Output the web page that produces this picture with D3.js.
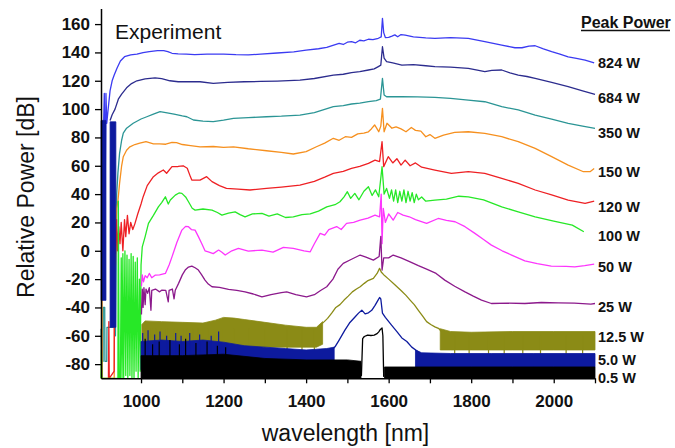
<!DOCTYPE html>
<html><head><meta charset="utf-8">
<script src="https://cdn.jsdelivr.net/npm/d3@7"></script>
<style>html,body{margin:0;padding:0;background:#fff;}svg{display:block;}</style>
</head><body><svg id="chart" width="675" height="448"></svg>
<script>
// ---------- data ----------
const xTicks = [1000,1100,1200,1300,1400,1500,1600,1700,1800,1900,2000,2100];
const xTickLabels = [1000,1200,1400,1600,1800,2000];
const yTicks = [-80,-60,-40,-20,0,20,40,60,80,100,120,140,160];
const seriesNames = ["824 W","684 W","350 W","150 W","120 W","100 W","50 W","25 W","12.5 W","5.0 W","0.5 W"];
const seriesColors = ["#3b3bf2","#2c2c8e","#2b9595","#f6901f","#ee2024","#27e827","#fd36fd","#8c1a8c","#8b8b16","#0d1a9e","#000000"];
const labelLevels = [132.3,107.6,82.9,55.8,30.7,10.6,-11.7,-39.5,-61.1,-77.1,-89.8];

const p824 = [[909,85],[911,111],[913,40],[915,111],[917,90],[920,99],[925,113],[930,120],[935,124],[942,129],[950,134],[960,137],[975,138.3],[990,138.8],[1005,139.8],[1020,140.5],[1040,141.2],[1055,141.3],[1065,140.6],[1075,139.4],[1090,139],[1110,138.8],[1130,138.5],[1160,138.8],[1200,138.8],[1230,138.4],[1260,138.2],[1290,138.8],[1330,139.6],[1370,140.4],[1400,141.6],[1430,142.6],[1450,143.5],[1465,145],[1480,146.4],[1490,145.6],[1500,147.2],[1510,147.6],[1520,146.8],[1530,148.6],[1540,148.2],[1551,149.3],[1562,149],[1575,150],[1582,151],[1585,164],[1588,154],[1592,150.5],[1600,150.6],[1608,151.5],[1615,152.4],[1622,151],[1630,152.6],[1640,152.2],[1660,151],[1690,150.2],[1712,149.9],[1750,150.4],[1793,149.9],[1833,147.6],[1874,145.2],[1906,143.3],[1923,143.3],[1940,144.5],[1955,144.7],[1975,142.5],[1995,140.5],[2015,138.8],[2035,136.9],[2055,135.8],[2076,134.6],[2098,132.7]];
const p684 = [[925,92],[930,96],[937,100],[945,107],[953,110.5],[965,115],[977,118],[990,120],[1010,121.3],[1034,122],[1050,121.5],[1070,120],[1090,119.3],[1120,119.4],[1143,119.3],[1175,118.2],[1210,118.8],[1250,119.3],[1290,119.5],[1330,119.8],[1385,120.5],[1420,121.6],[1466,124],[1490,124.6],[1510,125.8],[1530,126.4],[1551,127.6],[1565,128.4],[1575,130],[1581,131],[1585,144],[1589,136],[1595,133.5],[1610,132.6],[1632,131.1],[1660,131.4],[1690,130.6],[1712,130],[1750,129.6],[1793,128.8],[1815,127.5],[1833,126.4],[1850,127.4],[1874,127.6],[1894,125.6],[1914,124],[1935,123],[1955,121.7],[1995,118.8],[2035,115.8],[2070,112.8],[2100,110.4]];
const p350 = [[903,-55],[904,-78],[908,-78],[908.5,-40],[912,-40],[912.5,-78],[917,-78],[917.5,-54],[937,-54],[938,-60],[941,40],[944,55],[948,68.8],[953,78],[957,83],[965,86.5],[981,90],[1000,93],[1014,94.6],[1030,96.5],[1046,98.2],[1060,97.5],[1080,96.5],[1100,95.2],[1111,94.6],[1127,92.3],[1150,91.5],[1175,91.1],[1200,92.2],[1224,93.5],[1260,94],[1304,94.6],[1340,95],[1385,95.8],[1420,97.5],[1466,101.7],[1490,102.5],[1510,103.6],[1530,104.2],[1551,105.2],[1570,106],[1580,107],[1585,121.7],[1589,110],[1595,108.7],[1632,108.7],[1670,108.6],[1712,108.3],[1750,107.5],[1793,106.4],[1833,105.2],[1874,101.7],[1914,99.4],[1955,95.8],[1995,93],[2035,90],[2070,88],[2100,86.4]];
const p150 = [[904,-90],[905,36],[906,-90],[935,-90],[936,25],[938,-10],[941,30],[944,35],[948,47.6],[953,60],[957,66.4],[965,71],[973,73.4],[985,75],[997,75.9],[1012,77],[1030,75.5],[1045,75.4],[1060,75.2],[1075,76.5],[1086,76.3],[1100,75],[1120,74.2],[1143,73.4],[1175,73.6],[1200,73],[1224,73.4],[1260,72],[1304,70.6],[1340,69.5],[1369,68.3],[1400,70],[1425,73.4],[1445,76],[1466,79.4],[1480,78],[1495,80.5],[1510,80],[1525,82.5],[1540,83],[1551,84],[1558,86],[1566,88.8],[1572,86],[1576,84],[1581,88],[1585,100.5],[1589,84],[1596,90],[1608,86.5],[1618,87.5],[1630,86],[1642,84],[1655,87],[1665,85],[1678,84.5],[1690,80.5],[1700,82],[1712,79.4],[1733,81.7],[1760,83.5],[1793,84],[1833,82.9],[1874,80.5],[1914,77],[1955,72.3],[1995,66.4],[2035,60.5],[2072,55.8],[2088,55.8],[2098,58]];
const p120 = [[921,-90],[922,-50],[923,-90],[935,-85],[936,20],[938,-2],[941,22],[943,0],[946,17],[949,5],[952,20],[956,0],[960,22],[963,10],[967,25],[971,12],[975,20],[980,15],[985,19],[992,26],[1000,33],[1005,38],[1015,46],[1030,52.3],[1042,55],[1054,57],[1062,54.7],[1075,59.4],[1090,59.5],[1102,60],[1112,58.2],[1120,52],[1123,49.9],[1143,49.9],[1159,52.3],[1172,48.8],[1190,46],[1207,44.1],[1235,43.5],[1264,42.9],[1304,44.1],[1340,45],[1385,46.4],[1420,49],[1445,52],[1466,54.7],[1490,56],[1510,58.2],[1530,59.5],[1551,61.7],[1567,64],[1578,63],[1584,77],[1588,59.4],[1599,66.4],[1610,62],[1620,65],[1630,60.5],[1640,64],[1652,60],[1665,62],[1680,59],[1712,57],[1752,54.7],[1793,55.8],[1833,54.7],[1874,51.1],[1914,47.6],[1955,42.9],[1995,39.4],[2035,35.8],[2076,33.5],[2098,35]];
const p100 = [[903,-90],[904,-70],[905,-90],[944,-90],[945,35],[947,-90],[950,-90],[952,-5],[954,-90],[956,-2],[958,-90],[961,0],[963,-88],[966,-3],[968,-90],[971,-6],[973,-88],[976,-2],[978,-90],[981,-4],[983,-90],[986,-8],[988,-85],[991,-5],[993,-90],[996,-20],[998,-85],[1000,-10],[1003,2.8],[1010,10],[1018,19.3],[1030,25],[1042,31],[1050,34],[1059,38.1],[1066,33],[1071,35.8],[1083,39.3],[1092,40.8],[1099,40.5],[1108,38],[1115,34.6],[1124,30],[1131,28.7],[1150,29.5],[1172,28.7],[1185,27],[1196,25.2],[1212,26.5],[1228,27.5],[1240,25.5],[1252,24],[1270,26],[1293,26.4],[1310,24.5],[1330,26],[1350,23.5],[1369,24],[1390,25.5],[1410,26],[1430,28],[1450,31],[1470,32.5],[1482,34.6],[1492,38],[1500,41.7],[1508,37],[1518,40.5],[1528,36],[1540,42],[1551,45.2],[1560,39],[1568,43],[1576,38.1],[1584,59.3],[1589,40],[1595,44],[1602,37],[1607,43],[1612,35],[1617,43],[1622,34],[1627,42],[1632,35],[1637,43],[1642,34],[1647,42],[1652,35],[1657,41],[1662,34],[1667,40],[1672,36],[1680,38],[1690,35],[1712,35.8],[1740,36.5],[1770,38.5],[1793,38.1],[1830,36],[1874,31],[1914,27.5],[1955,24],[2000,21],[2045,18.1],[2073,13.4]];
const p50 = [[1001,-25],[1003,-17],[1006,-22],[1010,-17.5],[1015,-19],[1020,-16],[1026,-19],[1034,-17.2],[1045,-17],[1059,-16],[1068,-10],[1075,-4.3],[1087,6],[1099,14.6],[1108,17.2],[1115,17],[1122,15],[1131,14.6],[1139,10],[1147,5.2],[1155,0],[1163,-0.7],[1175,-2],[1188,0.5],[1196,-1],[1204,-3],[1220,0],[1236,1.7],[1260,-0.2],[1293,0.5],[1320,-1],[1345,2.4],[1369,1.7],[1395,0],[1410,-0.7],[1420,5],[1434,12.3],[1445,11],[1455,15],[1474,17.1],[1485,15],[1498,19.3],[1515,20],[1531,21.6],[1550,23],[1567,25.2],[1578,24],[1582,40],[1584,5],[1587,30],[1592,20],[1600,26],[1611,21.6],[1622,27],[1635,25.2],[1650,24],[1665,22],[1692,19.3],[1720,22.8],[1740,21.5],[1761,20.5],[1785,17],[1809,12.3],[1830,8],[1849,4],[1875,0],[1898,-3],[1930,-7.1],[1960,-9],[1994,-10.8],[2030,-11],[2051,-11.3],[2075,-10.5],[2098,-9.4]];
const p25 = [[1001,-45],[1003,-27],[1005,-40],[1007,-26],[1010,-38],[1012,-27],[1016,-30],[1020,-26],[1024,-42],[1026,-28],[1035,-27],[1045,-29],[1050,-27.8],[1060,-28],[1066,-36],[1068,-28],[1076,-27],[1080,-34],[1083,-27.8],[1091,-23],[1100,-17],[1107,-13.6],[1115,-11.5],[1123,-10.8],[1131,-12],[1139,-13.6],[1147,-17],[1155,-20.7],[1163,-23.5],[1172,-25.4],[1190,-25.8],[1212,-27.3],[1232,-28],[1252,-29],[1272,-30.5],[1293,-32.5],[1315,-31],[1340,-29.5],[1353,-29],[1375,-31],[1401,-32.5],[1420,-31],[1435,-28],[1450,-25.4],[1465,-20],[1477,-13],[1490,-8.9],[1510,-6],[1531,-3],[1545,-4.5],[1563,-6.6],[1577,-4],[1581,10.2],[1584,-13.6],[1588,-5],[1600,-5],[1611,-3],[1630,-5],[1652,-7.8],[1672,-10.5],[1692,-13],[1715,-16],[1736,-20.7],[1760,-25],[1785,-29],[1805,-32],[1825,-34.8],[1849,-37.2],[1890,-37],[1930,-37.2],[1970,-36.5],[2011,-36.7],[2050,-37],[2090,-37.6],[2100,-37.2]];
const p12_5 = [[1436,-52],[1444,-50],[1452,-47.7],[1462,-44],[1472,-40],[1482,-38],[1492,-34.8],[1502,-32],[1512,-29],[1522,-27],[1531,-25.4],[1541,-23],[1550,-21],[1563,-19.5],[1572,-16],[1578,-12.4],[1582,-15],[1590,-17.5],[1600,-20],[1615,-24],[1630,-28],[1642,-31.5],[1652,-34.8],[1662,-38],[1672,-42],[1682,-46],[1692,-50],[1702,-52],[1712,-53.7],[1722,-55],[1728,-57]];
const p5_0 = [[1462,-70],[1470,-67.8],[1480,-63],[1494,-56],[1505,-51],[1519,-46.6],[1527,-44],[1535,-41.9],[1543,-44.5],[1551,-43.8],[1559,-42],[1567,-38.5],[1574,-35],[1578,-33],[1581,-34],[1585,-44],[1592,-47],[1607,-52.5],[1620,-57],[1632,-61.5],[1644,-64],[1656,-68],[1668,-70.5],[1675,-72]];
const p0_5 = [[1525,-88],[1530,-86],[1534,-88],[1537,-62],[1541,-60.5],[1549,-59.5],[1557,-59.8],[1565,-59.5],[1572,-58.5],[1576,-57.2],[1580,-55.5],[1584,-54.5],[1586,-60],[1588,-89]];

// noise bands: [wavelength, low, high]; null breaks a band
const band12_5 = [[1002,-66,-52],[1010,-68,-49.5],[1050,-68,-50],[1100,-68,-50.5],[1150,-68,-51],[1180,-68,-49],[1200,-68,-47],[1225,-68,-47.5],[1250,-68,-48.5],[1300,-68,-50.5],[1350,-68,-52.5],[1400,-68,-54],[1425,-68,-54],[1440,-66,-50],null,[1725,-70,-55],[1750,-70,-57],[1800,-70,-57.5],[1900,-70,-57],[2000,-70,-57],[2100,-70,-57]];
const band5_0 = [[903,-35,92],[915,-35,92],null,[925,-54,91],[939,-54,91],null,[1000,-84,-64],[1050,-84,-63],[1100,-84,-64],[1150,-82,-63],[1200,-80,-64.5],[1250,-80,-67],[1300,-80,-68],[1350,-80,-69],[1400,-80,-70],[1450,-80,-69],[1468,-80,-68],null,[1665,-82,-70],[1680,-82,-72],[1750,-82,-72.5],[1850,-82,-72.5],[1950,-82,-72.5],[2100,-82,-72.5]];
const band0_5 = [[1000,-90,-74],[1100,-90,-74],[1200,-90,-73],[1300,-90,-76],[1400,-90,-77],[1500,-90,-77],[1533,-90,-78],null,[1590,-90,-82],[1700,-90,-82],[1800,-90,-82],[1900,-90,-82],[2000,-90,-82],[2100,-90,-82]];

// isolated noise spikes: [wavelength, low, high]
const spikes12_5 = [[1006,-90,-55],[1013,-88,-55],[1021,-90,-55],[1030,-86,-55],[1037,-90,-55],[1048,-84,-55],[1057,-90,-55],[1066,-87,-55],[1079,-90,-55],[1090,-85,-55],[1101,-90,-55],[1112,-86,-55],[1125,-90,-55],[1138,-88,-55],[1150,-90,-55],[1163,-84,-55],[1178,-90,-55],[1195,-86,-55],[1226,-84,-55],[1262,-86,-55],[1300,-82,-55],[1354,-84,-55],[1390,-86,-55],[1420,-85,-55],[1760,-80,-60],[1795,-78,-60],[1842,-80,-60],[1880,-77,-60],[1925,-80,-60],[1968,-78,-60],[2030,-80,-60],[2070,-78,-60]];
const spikes5_0 = [[1004,-90,-58],[1017,-90,-56],[1033,-88,-59],[1046,-90,-57],[1062,-90,-60],[1084,-88,-58],[1097,-90,-60],[1118,-90,-58],[1142,-88,-59],[1170,-90,-60],[1188,-90,-57]];
const spikes0_5 = [[1010,-90,-62],[1028,-90,-66],[1044,-90,-64],[1070,-90,-63],[1093,-90,-66],[1108,-90,-62],[1133,-90,-65],[1160,-90,-64],[1185,-90,-67],[1205,-90,-68]];

const lines = [p824,p684,p350,p150,p120,p100,p50,p25,p12_5,p5_0,p0_5];
const bands = {8: band12_5, 9: band5_0, 10: band0_5};
const spikes = {8: spikes12_5, 9: spikes5_0, 10: spikes0_5};

// ---------- drawing ----------
const svg = d3.select("#chart");
const FONT = "'Liberation Sans', Arial, Helvetica, sans-serif";
const x = d3.scaleLinear().domain([903, 2100]).range([101, 595]);
const y = d3.scaleLinear().domain([-90, 171]).range([378.3, 8.5]);

const lineGen = d3.line().defined(d => d !== null).x(d => x(d[0])).y(d => y(d[1]));
const areaGen = d3.area().defined(d => d !== null).x(d => x(d[0])).y0(d => y(d[1])).y1(d => y(d[2]));

const plot = svg.append("g");
lines.forEach((data, i) => {
  const c = seriesColors[i];
  if (bands[i]) {
    plot.append("path").datum(bands[i]).attr("d", areaGen).attr("fill", c).attr("stroke", c).attr("stroke-width", 0.8);
    plot.selectAll(null).data(spikes[i]).enter().append("line")
      .attr("x1", d => x(d[0])).attr("x2", d => x(d[0]))
      .attr("y1", d => y(d[1])).attr("y2", d => y(d[2]))
      .attr("stroke", c).attr("stroke-width", 1.2);
  }
  plot.append("path").datum(data).attr("d", lineGen)
    .attr("fill", "none").attr("stroke", c).attr("stroke-width", 1.3).attr("stroke-linejoin", "round");
});

// axes
const xAxis = d3.axisBottom(x).tickValues(xTicks).tickSize(5).tickSizeOuter(0).tickPadding(12)
  .tickFormat(d => xTickLabels.includes(d) ? String(d) : "");
const gx = svg.append("g").attr("transform", "translate(0,378.3)").call(xAxis);
const yAxis = d3.axisLeft(y).tickValues(yTicks).tickSize(6).tickSizeOuter(0).tickPadding(5)
  .tickFormat(d => String(d));
const gy = svg.append("g").attr("transform", "translate(101,0)").call(yAxis);
[gx, gy].forEach(g => {
  g.select(".domain").attr("stroke", "#000").attr("stroke-width", 1.5);
  g.selectAll(".tick line").attr("stroke", "#000").attr("stroke-width", 1.3);
  g.selectAll(".tick text").attr("fill", "#111").attr("font-family", FONT).attr("font-size", 17).attr("font-weight", "bold");
});
gx.selectAll(".tick text").attr("dy", "0.71em");

// titles
svg.append("text").attr("x", 345.5).attr("y", 441).attr("text-anchor", "middle")
  .attr("font-family", FONT).attr("font-size", 23).attr("fill", "#111").text("wavelength [nm]");
svg.append("text").attr("transform", "translate(34,197) rotate(-90)").attr("text-anchor", "middle")
  .attr("font-family", FONT).attr("font-size", 23).attr("fill", "#111").text("Relative Power [dB]");
svg.append("text").attr("x", 115).attr("y", 39).attr("font-family", FONT).attr("font-size", 21)
  .attr("fill", "#111").text("Experiment");
svg.append("text").attr("x", 581).attr("y", 28).attr("font-family", FONT).attr("font-size", 16)
  .attr("font-weight", "bold").attr("fill", "#111").text("Peak Power");
svg.append("line").attr("x1", 581).attr("x2", 670).attr("y1", 30.5).attr("y2", 30.5)
  .attr("stroke", "#111").attr("stroke-width", 1.3);

svg.selectAll(null).data(seriesNames).enter().append("text")
  .attr("x", 598).attr("y", (d, i) => y(labelLevels[i]) + 5)
  .attr("font-family", FONT).attr("font-size", 14.5).attr("font-weight", "bold").attr("fill", "#111")
  .text(d => d);
</script></body></html>
